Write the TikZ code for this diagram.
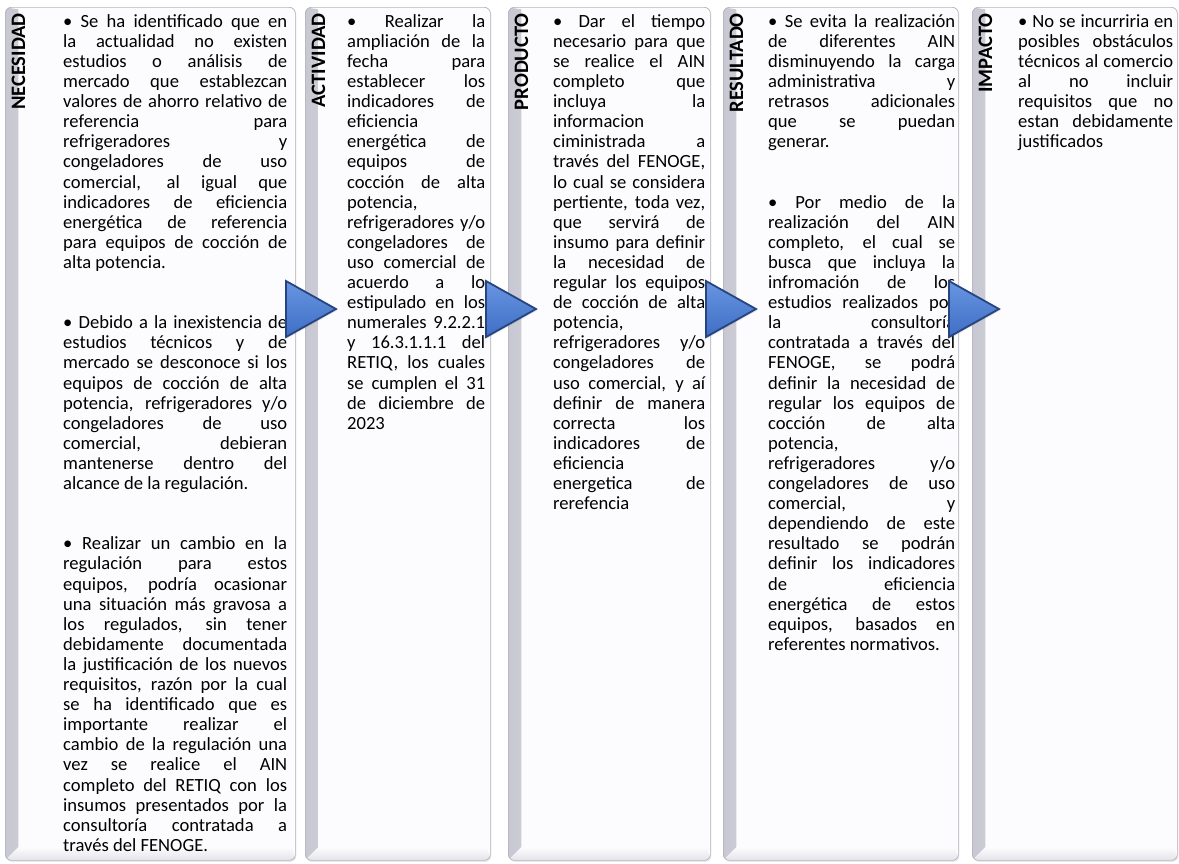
\documentclass[tikz,border=0pt]{standalone}
\usepackage{fontspec}
\setmainfont{Carlito}
\usetikzlibrary{shadows}
\definecolor{boxfill}{RGB}{252,252,254}
\definecolor{boxline}{RGB}{178,178,188}
\definecolor{bevL}{RGB}{200,200,210}
\definecolor{bevB}{RGB}{226,226,234}
\definecolor{triTop}{RGB}{104,150,226}
\definecolor{triBot}{RGB}{62,110,196}
\definecolor{triLine}{RGB}{38,68,128}
\newcommand\Lj[1]{\hbox to\hsize{\strut#1}}
\newcommand\Le[1]{\hbox to\hsize{\strut#1\hfil}}
\newcommand\Lb{\hbox{\strut}}
\newcommand\bodyfont{\fontsize{18.6}{20.1}\selectfont}
\newcommand\colbox[2]{\vbox{\hsize=#1pt\relax\bodyfont#2}}
\tikzset{
  panel/.style={draw=boxline, line width=0.7pt, rounded corners=6pt, fill=boxfill,
    inner sep=0pt, anchor=north west, minimum height=853pt,
    drop shadow={shadow xshift=1pt, shadow yshift=-1.5pt, opacity=0.18},
    path picture={
      \fill[sharp corners, left color=bevL, right color=boxfill]
        (path picture bounding box.south west) -- (path picture bounding box.north west)
        -- ([xshift=13pt,yshift=-2pt]path picture bounding box.north west)
        -- ([xshift=13pt,yshift=13pt]path picture bounding box.south west) -- cycle;
      \fill[sharp corners, top color=boxfill, bottom color=bevB]
        (path picture bounding box.south west)
        -- ([xshift=13pt,yshift=13pt]path picture bounding box.south west)
        -- ([xshift=-3pt,yshift=13pt]path picture bounding box.south east)
        -- (path picture bounding box.south east) -- cycle;
    }},
  hdr/.style={rotate=90, anchor=east, inner sep=0pt, font=\bfseries\fontsize{20.5}{24}\selectfont},
  txt/.style={anchor=north west, inner sep=0pt},
  arrowtri/.style={top color=triTop, bottom color=triBot, draw=triLine, line width=1.8pt,
    drop shadow={shadow xshift=1pt, shadow yshift=-1.5pt, opacity=0.2}},
}
\newcommand\tri[2]{\filldraw[arrowtri] (#1,#2-28) -- (#1+50,#2) -- (#1,#2+28) -- cycle;}
\begin{document}
\begin{tikzpicture}[x=1pt,y=-1pt]
\useasboundingbox (0,0) rectangle (1179,863);
\fill[white] (0,0) rectangle (1179,863);

\node[panel, minimum width=290pt] (b1) at (5,7) {};
\node[panel, minimum width=185pt] (b2) at (305,7) {};
\node[panel, minimum width=202pt] (b3) at (508,7) {};
\node[panel, minimum width=235pt] (b4) at (723,7) {};
\node[panel, minimum width=205pt] (b5) at (972,7) {};

\node[hdr] (h1) at (18.5,13) {NECESIDAD};
\node[hdr] (h2) at (318.5,13) {ACTIVIDAD};
\node[hdr] (h3) at (521.5,13) {PRODUCTO};
\node[hdr] (h4) at (736.5,13) {RESULTADO};
\node[hdr] (h5) at (985.5,13) {IMPACTO};

\node[txt] (t1) at (63,13) {\colbox{224}{%
\Lj{• Se ha identificado que en}
\Lj{la actualidad no existen}
\Lj{estudios o análisis de}
\Lj{mercado que establezcan}
\Lj{valores de ahorro relativo de}
\Lj{referencia para}
\Lj{refrigeradores y}
\Lj{congeladores de uso}
\Lj{comercial, al igual que}
\Lj{indicadores de eficiencia}
\Lj{energética de referencia}
\Lj{para equipos de cocción de}
\Le{alta potencia.}
\Lb
\Lb
\Lj{• Debido a la inexistencia de}
\Lj{estudios técnicos y de}
\Lj{mercado se desconoce si los}
\Lj{equipos de cocción de alta}
\Lj{potencia, refrigeradores y/o}
\Lj{congeladores de uso}
\Lj{comercial, debieran}
\Lj{mantenerse dentro del}
\Le{alcance de la regulación.}
\Lb
\Lb
\Lj{• Realizar un cambio en la}
\Lj{regulación para estos}
\Lj{equipos, podría ocasionar}
\Lj{una situación más gravosa a}
\Lj{los regulados, sin tener}
\Lj{debidamente documentada}
\Lj{la justificación de los nuevos}
\Lj{requisitos, razón por la cual}
\Lj{se ha identificado que es}
\Lj{importante realizar el}
\Lj{cambio de la regulación una}
\Lj{vez se realice el AIN}
\Lj{completo del RETIQ con los}
\Lj{insumos presentados por la}
\Lj{consultoría contratada a}
\Le{través del FENOGE.}}};

\node[txt] (t2) at (347,13) {\colbox{138}{%
\Lj{• Realizar la}
\Lj{ampliación de la}
\Lj{fecha para}
\Lj{establecer los}
\Lj{indicadores de}
\Lj{eficiencia}
\Lj{energética de}
\Lj{equipos de}
\Lj{cocción de alta}
\Lj{potencia,}
\Lj{refrigeradores y/o}
\Lj{congeladores de}
\Lj{uso comercial de}
\Lj{acuerdo a lo}
\Lj{estipulado en los}
\Lj{numerales 9.2.2.1}
\Lj{y 16.3.1.1.1 del}
\Lj{RETIQ, los cuales}
\Lj{se cumplen el 31}
\Lj{de diciembre de}
\Le{2023}}};

\node[txt] (t3) at (553,13) {\colbox{152}{%
\Lj{• Dar el tiempo}
\Lj{necesario para que}
\Lj{se realice el AIN}
\Lj{completo que}
\Lj{incluya la}
\Lj{informacion}
\Lj{ciministrada a}
\Lj{través del FENOGE,}
\Lj{lo cual se considera}
\Lj{pertiente, toda vez,}
\Lj{que servirá de}
\Lj{insumo para definir}
\Lj{la necesidad de}
\Lj{regular los equipos}
\Lj{de cocción de alta}
\Lj{potencia,}
\Lj{refrigeradores y/o}
\Lj{congeladores de}
\Lj{uso comercial, y aí}
\Lj{definir de manera}
\Lj{correcta los}
\Lj{indicadores de}
\Lj{eficiencia}
\Lj{energetica de}
\Le{rerefencia}}};

\node[txt] (t4) at (768,13) {\colbox{187}{%
\Lj{• Se evita la realización}
\Lj{de diferentes AIN}
\Lj{disminuyendo la carga}
\Lj{administrativa y}
\Lj{retrasos adicionales}
\Lj{que se puedan}
\Le{generar.}
\Lb
\Lb
\Lj{• Por medio de la}
\Lj{realización del AIN}
\Lj{completo, el cual se}
\Lj{busca que incluya la}
\Lj{infromación de los}
\Lj{estudios realizados por}
\Lj{la consultoría}
\Lj{contratada a través del}
\Lj{FENOGE, se podrá}
\Lj{definir la necesidad de}
\Lj{regular los equipos de}
\Lj{cocción de alta}
\Lj{potencia,}
\Lj{refrigeradores y/o}
\Lj{congeladores de uso}
\Lj{comercial, y}
\Lj{dependiendo de este}
\Lj{resultado se podrán}
\Lj{definir los indicadores}
\Lj{de eficiencia}
\Lj{energética de estos}
\Lj{equipos, basados en}
\Le{referentes normativos.}}};

\node[txt] (t5) at (1018,13) {\colbox{155}{%
\Lj{• No se incurriria en}
\Lj{posibles obstáculos}
\Lj{técnicos al comercio}
\Lj{al no incluir}
\Lj{requisitos que no}
\Lj{estan debidamente}
\Le{justificados}}};

\tri{286}{309}
\tri{486}{309}
\tri{706}{309}
\tri{949}{309}
\end{tikzpicture}
\end{document}
